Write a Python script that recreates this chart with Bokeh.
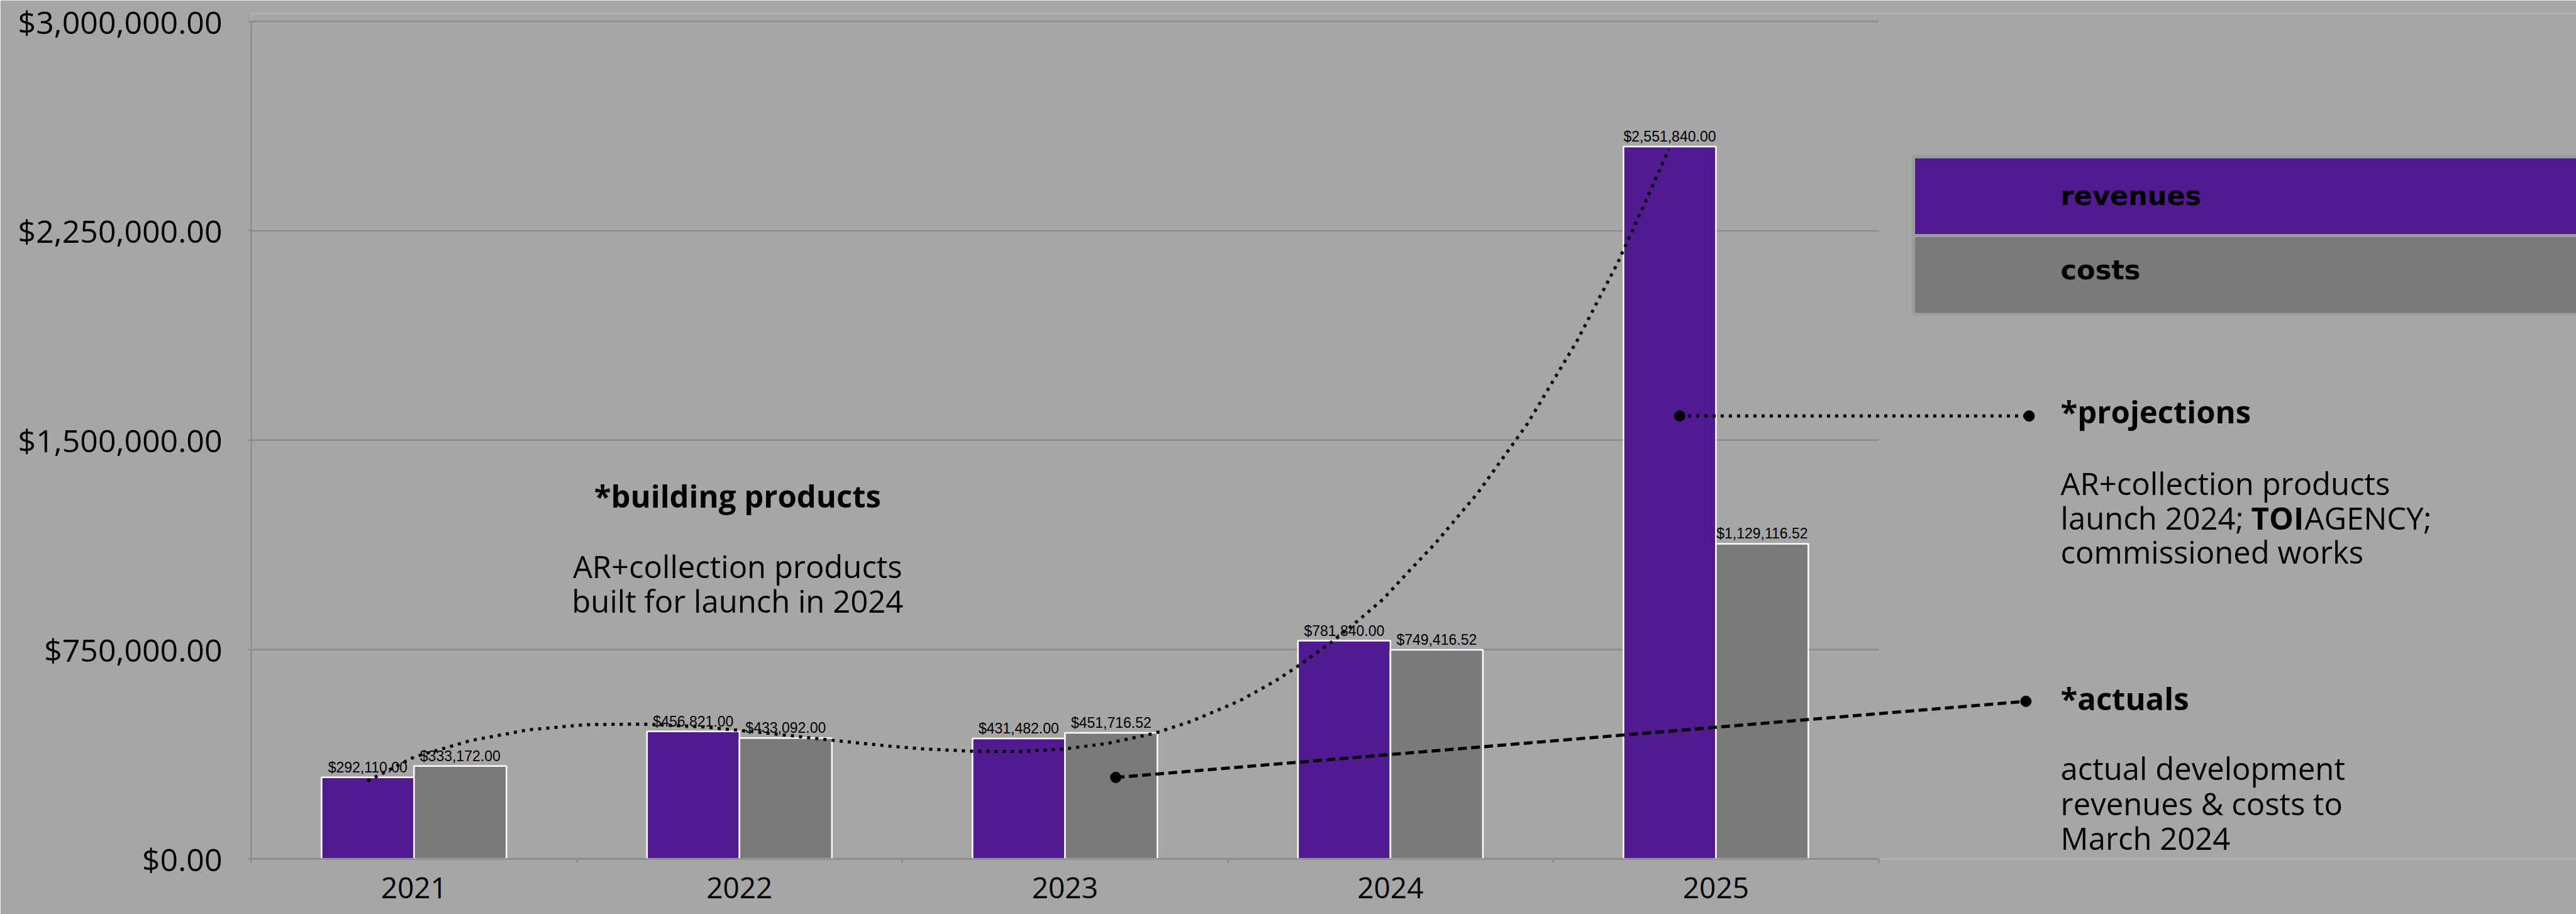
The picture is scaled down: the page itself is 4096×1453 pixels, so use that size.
import numpy as np
from bokeh.plotting import figure
from bokeh.models import Range1d, FixedTicker, NumeralTickFormatter, CustomJSTickFormatter, Label
from bokeh.core.properties import value
from bokeh.embed import file_html
from bokeh.resources import INLINE

# ---------------- data ----------------
years = ["2021", "2022", "2023", "2024", "2025"]
revenues = [292110.00, 456821.00, 431482.00, 781840.00, 2551840.00]
costs = [333172.00, 433092.00, 451716.52, 749416.52, 1129116.52]
series_names = ["revenues", "costs"]
y_ticks = [0, 750000, 1500000, 2250000, 3000000]

# dotted trend curve (x in category-index units, y in dollars)
trend_x = [-0.143, 0.0, 0.174, 0.348, 0.525, 0.701, 0.878, 1.052, 1.287, 1.462,
           1.567, 1.715, 1.865, 1.998, 2.127, 2.275, 2.386, 2.536, 2.647, 2.720,
           2.825, 2.906, 2.977, 3.061, 3.137, 3.269, 3.421, 3.572, 3.698, 3.774, 3.855]
trend_y = [279000, 365000, 424000, 462000, 481000, 483000, 474000, 455000, 425000, 404000,
           394000, 386000, 385000, 394000, 413000, 450000, 492000, 566000, 638000, 694000,
           782000, 859000, 930000, 1036000, 1129000, 1312000, 1559000, 1853000, 2135000, 2330000, 2541000]

# ---------------- style ----------------
BG = "#A6A6A6"
GRID = "#8C8C8C"
PURPLE = "#511A91"
GREY = "#7A7A7A"
LEGEND_FRAME = "#9C9C9C"
colors = [PURPLE, GREY]
SANS = "Open Sans"

S = 0.864
W, H = 4096, 1453

# reference layout (full-size reference pixels) -> data coordinates
REF_X0 = 761.5      # centre of first category
REF_BAND = 599.0    # width of one category band
REF_Y0 = 1580.0     # y of zero line
REF_YSPAN = 1541.0  # pixels from 0 to top tick


def X(px):
    return (px - REF_X0) / REF_BAND


def Y(py):
    return (REF_Y0 - py) / REF_YSPAN * y_ticks[-1]


def DX(out_px):
    return out_px / (REF_BAND * S)


frame_left = 399
frame_top = 21
frame_bottom = 1365
n = len(years)
x_end = -0.5 + (W - frame_left) / (REF_BAND * S)
y_end = (frame_bottom - frame_top) / (REF_YSPAN * S) * y_ticks[-1]

p = figure(width=W, height=H, output_backend="svg", toolbar_location=None,
           x_range=Range1d(-0.5, x_end), y_range=Range1d(0, y_end),
           min_border_left=frame_left, min_border_right=0,
           min_border_top=frame_top, min_border_bottom=H - frame_bottom,
           background_fill_color=BG, border_fill_color=BG, outline_line_color=None)
p.xgrid.visible = False
p.ygrid.visible = False

# y axis
ya = p.yaxis[0]
ya.ticker = FixedTicker(ticks=y_ticks, minor_ticks=[])
ya.formatter = NumeralTickFormatter(format="$0,0.00")
ya.bounds = (0, y_ticks[-1])
ya.axis_line_color = GRID
ya.axis_line_width = 2.5
ya.major_tick_line_color = GRID
ya.major_tick_line_width = 2.5
ya.major_tick_out = 5
ya.major_tick_in = 0
ya.minor_tick_line_color = None
ya.major_label_text_font = SANS
ya.major_label_text_font_size = "50px"
ya.major_label_text_color = "black"
ya.major_label_standoff = 41

# x axis
xa = p.xaxis[0]
xa.ticker = FixedTicker(ticks=list(range(n)), minor_ticks=[i - 0.5 for i in range(n + 1)])
xa.formatter = CustomJSTickFormatter(args=dict(labels=years),
                                     code="const i = Math.round(tick); return (i >= 0 && i < labels.length) ? labels[i] : '';")
xa.bounds = (-0.5, n - 0.5)
xa.axis_line_color = GRID
xa.axis_line_width = 2.5
xa.major_tick_line_color = None
xa.major_tick_out = 0
xa.major_tick_in = 0
xa.minor_tick_line_color = GRID
xa.minor_tick_line_width = 2.5
xa.minor_tick_out = 6
xa.minor_tick_in = 0
xa.major_label_text_font = SANS
xa.major_label_text_font_size = "46px"
xa.major_label_text_color = "black"
xa.major_label_standoff = 23

# horizontal grid lines limited to the category area
p.segment(x0=[-0.5] * len(y_ticks), x1=[n - 0.5] * len(y_ticks), y0=y_ticks, y1=y_ticks,
          line_color=GRID, line_width=2.5)

# bars
idx = np.arange(n)
bw = 0.284
offsets = [-bw / 2, bw / 2]
for vals, off, col in zip([revenues, costs], offsets, colors):
    xs = idx + off
    p.vbar(x=xs, top=vals, width=bw, fill_color=col, line_color="white", line_width=2.5)
    p.text(x=xs, y=vals, text=[f"${v:,.2f}" for v in vals], text_align="center",
           text_baseline="bottom", y_offset=-3, text_font=value("Liberation Sans"),
           text_font_size="23px", text_color="black")

# dotted trend curve
p.line(trend_x, trend_y, line_color="black", line_width=5, line_dash="5 8")

# connector: projections
proj = ([X(3091), X(3734)], [Y(765), Y(765)])
p.line(proj[0], proj[1], line_color="black", line_width=5, line_dash="5 8")
p.scatter(proj[0], proj[1], size=17, color="black")

# connector: actuals
act = ([X(2053), X(3728)], [Y(1430), Y(1290)])
p.line(act[0], act[1], line_color="black", line_width=5, line_dash="14 7")
p.scatter(act[0], act[1], size=17, color="black")

# legend (drawn as bands)
p.quad(left=[X(3518)], right=[x_end + 1], top=[Y(285)], bottom=[Y(580)],
       fill_color=LEGEND_FRAME, line_color=None)
band_tops = [291, 436]
band_bottoms = [430, 575]
text_base = [360, 496]
for name, col, bt, bb, tb in zip(series_names, colors, band_tops, band_bottoms, text_base):
    p.quad(left=[X(3524)], right=[x_end + 1], top=[Y(bt)], bottom=[Y(bb)],
           fill_color=col, line_color=None)
    p.add_layout(Label(x=X(3792), y=Y(tb), text=name, text_font="DejaVu Sans",
                       text_font_style="bold", text_font_size="43px", text_color="black",
                       text_align="left", text_baseline="alphabetic"))


def add_text(txt, x, y, bold=False, size="49px", align="left"):
    p.add_layout(Label(x=x, y=y, text=txt, text_font=SANS,
                       text_font_style="bold" if bold else "normal",
                       text_font_size=size, text_color="black",
                       text_align=align, text_baseline="alphabetic"))


# left annotation
add_text("*building products", X(1357), Y(912), bold=True, align="center")
add_text("AR+collection products", X(1357), Y(1041), align="center")
add_text("built for launch in 2024", X(1357), Y(1105), align="center")

# right annotations
add_text("*projections", X(3792), Y(757), bold=True)
add_text("AR+collection products", X(3792), Y(888))
add_text("launch 2024; ", X(3792), Y(952))
add_text("TOI", X(3792) + DX(303), Y(952), bold=True)
add_text("AGENCY;", X(3792) + DX(303 + 85), Y(952))
add_text("commissioned works", X(3792), Y(1015))

add_text("*actuals", X(3792), Y(1284), bold=True)
add_text("actual development", X(3792), Y(1413))
add_text("revenues & costs to", X(3792), Y(1477))
add_text("March 2024", X(3792), Y(1541))

open("out.html", "w").write(file_html(p, INLINE))
